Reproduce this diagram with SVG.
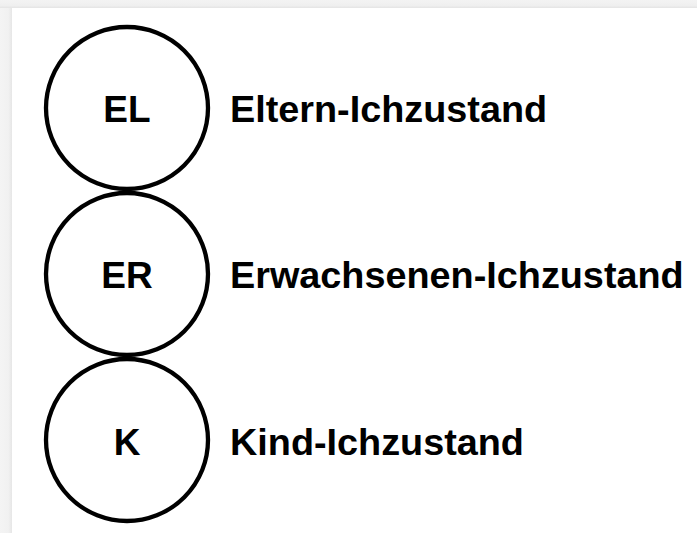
<svg xmlns="http://www.w3.org/2000/svg" width="697" height="533" viewBox="0 0 697 533">
  <defs>
    <linearGradient id="edgeLeft" x1="0" y1="0" x2="1" y2="0">
      <stop offset="0" stop-color="#f4f4f4"/>
      <stop offset="0.7" stop-color="#f1f1f1"/>
      <stop offset="1" stop-color="#e6e6e6"/>
    </linearGradient>
    <linearGradient id="edgeTop" x1="0" y1="0" x2="0" y2="1">
      <stop offset="0" stop-color="#f3f3f3"/>
      <stop offset="0.7" stop-color="#efefef"/>
      <stop offset="1" stop-color="#e4e4e4"/>
    </linearGradient>
  </defs>
  <style>
    .state { fill: #ffffff; stroke: #000000; stroke-width: 4.3; }
    .abbr { font-family: "Liberation Sans", Arial, sans-serif; font-weight: bold; font-size: 37px; fill: #000000; text-anchor: middle; }
    .label { font-family: "Liberation Sans", Arial, sans-serif; font-weight: bold; font-size: 37.8px; fill: #000000; }
  </style>

  <!-- page background with soft frame -->
  <rect x="0" y="0" width="697" height="533" fill="#ffffff"/>
  <rect x="0" y="0" width="12" height="533" fill="url(#edgeLeft)"/>
  <rect x="0" y="0" width="697" height="8" fill="url(#edgeTop)"/>

  <!-- ego states -->
  <g id="parent">
    <circle class="state" cx="127" cy="108" r="81"/>
    <text class="abbr" x="127" y="122">EL</text>
    <text class="label" x="230" y="122">Eltern-Ichzustand</text>
  </g>

  <g id="adult">
    <circle class="state" cx="127" cy="274" r="81"/>
    <text class="abbr" x="127" y="288">ER</text>
    <text class="label" x="230" y="288">Erwachsenen-Ichzustand</text>
  </g>

  <g id="child">
    <circle class="state" cx="127" cy="440" r="81"/>
    <text class="abbr" x="127" y="455">K</text>
    <text class="label" x="230" y="455">Kind-Ichzustand</text>
  </g>
</svg>
